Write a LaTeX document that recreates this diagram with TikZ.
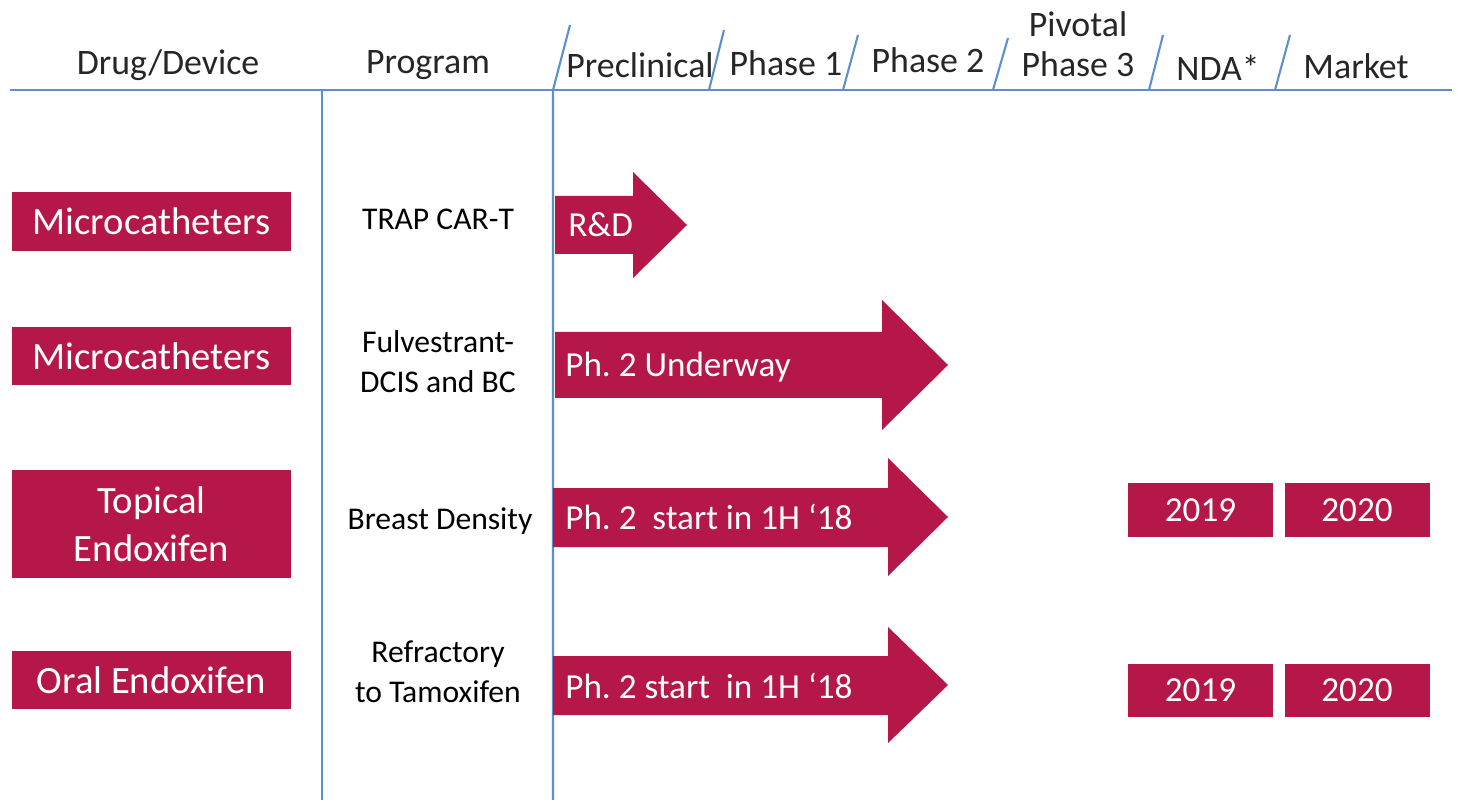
\documentclass[tikz,border=0pt]{standalone}
\usepackage{fontspec}
\setmainfont{Carlito}
\usetikzlibrary{positioning}
\definecolor{crimson}{RGB}{180,23,72}
\definecolor{gridblue}{RGB}{91,143,208}
\frenchspacing

\begin{document}
\begin{tikzpicture}[
  x=0.02cm, y=-0.02cm,
  rule/.style={draw=gridblue, line width=1.2pt},
  head/.style={font=\fontsize{20.4}{22.7}\selectfont, align=center, text=black!85, inner sep=0pt},
  drug/.style={fill=crimson, text=white, minimum width=5.58cm, minimum height=1.18cm, inner sep=0pt, align=center, font=\fontsize{22}{27}\selectfont},
  prog/.style={font=\fontsize{18}{22.7}\selectfont, align=center, inner sep=0pt},
  bar/.style={fill=crimson},
  bartext/.style={anchor=west, text=white, inner sep=0pt, font=\fontsize{20}{24}\selectfont},
  year/.style={fill=crimson, text=white, minimum width=2.9cm, minimum height=1.08cm, inner sep=0pt, font=\fontsize{20}{24}\selectfont}
]
\useasboundingbox (0,0) rectangle (1457,800);

% grid lines
\draw[rule] (10,90) -- (1452,90);
\draw[rule] (322,90) -- (322,800);
\draw[rule] (570,25) -- (553,90) -- (553,800);
\foreach \xa/\xb/\yt in {709/724/30, 843/858/35, 993/1008/38, 1149/1163/35, 1275/1290/35}
  \draw[rule] (\xa,90) -- (\xb,\yt);

% column heads
\node[head] (h-drug) at (168,65) {Drug/Device};
\node[head] (h-prog) at (428,65) {Program};
\node[head] (h-pre) at (640,65) {Preclinical};
\node[head] (h-ph1) at (786,63) {Phase 1};
\node[head] (h-ph2) at (928,60) {Phase 2};
\node[head] (h-ph3) at (1078,44) {Pivotal\\Phase 3};
\node[head] (h-nda) at (1218,68) {NDA*};
\node[head] (h-mkt) at (1356,66) {Market};

% drugs / devices
\node[drug] (d1) at (151.5,221.5) {Microcatheters};
\node[drug] (d2) at (151.5,356) {Microcatheters};
\node[drug, minimum height=2.16cm] (d3) at (151.5,524) {Topical\\Endoxifen};
\node[drug] (d4) at (151.5,680) {Oral Endoxifen};

% programs
\node[prog] (p1) at (438,219) {TRAP CAR-T};
\node[prog] (p2) at (438,362) {Fulvestrant-\\DCIS and BC};
\node[prog] (p3) at (440,521) {Breast Density};
\node[prog] (p4) at (438,672) {Refractory\\to Tamoxifen};

% stage bars
\fill[bar] (555,196) -- (633,196) -- (633,172) -- (687,225) -- (633,278) -- (633,254) -- (555,254) -- cycle;
\fill[bar] (555,332) -- (882,332) -- (882,300) -- (948,365) -- (882,430) -- (882,398) -- (555,398) -- cycle;
\fill[bar] (553,488) -- (888,488) -- (888,458) -- (948,517) -- (888,576) -- (888,547) -- (553,547) -- cycle;
\fill[bar] (553,656) -- (888,656) -- (888,627) -- (948,685) -- (888,743) -- (888,715) -- (553,715) -- cycle;

\node[bartext] (b1) at (568,225) {R\&D};
\node[bartext] (b2) at (565,367) {Ph. 2 Underway};
\node[bartext] (b3) at (565,517) {Ph. 2\ \ start in 1H ‘18};
\node[bartext] (b4) at (565,686) {Ph. 2 start\ \ in 1H ‘18};

% dates
\node[year] (y1) at (1200.5,510) {2019};
\node[year] (y2) at (1357,510) {2020};
\node[year] (y3) at (1200.5,690.5) {2019};
\node[year] (y4) at (1357,690.5) {2020};
\end{tikzpicture}
\end{document}
